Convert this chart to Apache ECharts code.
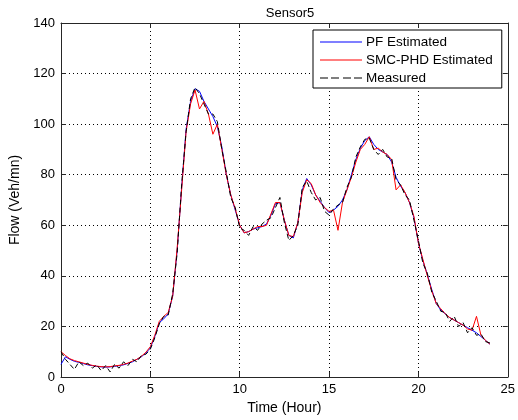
<!DOCTYPE html>
<html>
<head>
<meta charset="utf-8">
<script src="https://cdn.jsdelivr.net/npm/echarts@6/dist/echarts.min.js"></script>
<style>
  html, body { margin: 0; padding: 0; background: #fff; }
  #sensorChart { width: 518px; height: 420px; }
</style>
</head>
<body>
<div id="sensorChart"></div>
<script>
// sampled every quarter hour, 0 .. 24 h
const STEP = 0.25

const pfEstimated = [
  5, 8, 7, 6.2, 5.8, 5.3, 4.8, 4.5, 4.2, 4.0, 3.9, 4.0, 4.2, 4.5, 4.8, 5.4,
  6.0, 7.0, 8.0, 9.5, 11.5, 16, 21.5, 23, 25, 32, 50, 75, 98, 109, 114, 113,
  109, 106, 103, 99, 91, 80, 72, 66, 60, 57, 57.5, 58.5, 59, 59.5, 60.5, 64,
  68.5, 69, 62, 56, 55, 61, 74, 78.5, 76, 72, 69.5, 67, 65, 66, 67.5, 70,
  74, 80, 86, 90.5, 93.5, 95, 92, 90, 89, 88, 85, 79, 75.5, 73, 69, 63,
  53, 46, 40.5, 34.5, 29, 26.5, 25, 23.5, 22.5, 21.5, 20.5, 19.5, 18.5, 17.5, 16, 14.5,
  13
]

const smcPhdEstimated = [
  10, 8.5, 7.2, 6.5, 6, 5.5, 5, 4.6, 4.3, 4.1, 4, 4.1, 4.4, 4.6, 5, 5.5,
  6.3, 7, 8.2, 9.8, 12, 16.5, 22, 24, 25.5, 32, 51, 74, 97, 108, 113.5, 106,
  109, 104, 96, 100, 90, 80, 72, 66.5, 60, 57, 57.5, 58.5, 59.5, 59.5, 60, 64.5,
  69, 69, 62, 56, 55.5, 61, 73, 78, 76.5, 72, 69, 67, 65.5, 66, 58, 69,
  74, 79, 85, 90, 92, 95, 90, 90.5, 89, 88, 86, 74, 76, 73, 69, 63.5,
  53, 46.5, 40, 34, 29, 27, 25, 23.5, 22.5, 21.5, 20.5, 19, 18.5, 24, 16.5, 14.5,
  13
]

const measured = [
  10, 7, 5, 3, 6, 4.5, 5.5, 3.5, 4.8, 2.5, 4.5, 2, 5, 3.5, 6, 4.5,
  7, 6, 8.5, 9, 11, 15.5, 21, 24, 24.5, 33, 49, 76, 97, 110, 114.5, 112,
  108, 104, 104, 101, 90, 81, 71, 67, 59, 58, 56, 59.5, 58, 60.5, 62, 63,
  67, 71, 61, 54, 56, 60, 75, 77.5, 73, 70, 71, 65.5, 64, 66.5, 68, 69,
  75, 79, 87, 91, 94, 94.5, 90, 88, 90, 87, 86.5, 78, 76, 72, 70, 62,
  54, 45, 41, 33.5, 30, 26, 25.5, 22, 24, 20, 21.5, 17.5, 19.5, 16.5, 17, 14,
  13.5
]

const xTicks = { min: 0, max: 25, interval: 5 }
const yTicks = { min: 0, max: 140, interval: 20 }

const hours = pfEstimated.map((v, i) => i * STEP)
const pairs = arr => arr.map((v, i) => [hours[i], v])

const font = 'Liberation Sans, Arial, Helvetica, sans-serif'
const axisColor = '#262626'
const blue = '#0000ff'
const red = '#ff0000'

// legend samples: a thin solid bar and a dashed one
const solidIcon = 'path://M0,0H42V1H0Z'
const dashedIcon = 'path://M0,0h8v1h-8z M11,0h8v1h-8z M23,0h8v1h-8z M34,0h8v1h-8z'

const chart = echarts.init(document.getElementById('sensorChart'))

const baseAxis = {
  axisLine: { show: true, onZero: false, lineStyle: { color: axisColor, width: 1 } },
  axisTick: { show: true, inside: true, length: 5, lineStyle: { color: axisColor } },
  axisLabel: { color: '#000', fontFamily: font, fontSize: 13 }
}
const gridLine = { show: true, lineStyle: { color: '#000', type: [1, 3], width: 1 } }

chart.setOption({
  animation: false,
  title: {
    text: 'Sensor5',
    left: 285,
    top: 2,
    textAlign: 'center',
    textStyle: { fontFamily: font, fontSize: 13, fontWeight: 'normal', color: '#000' }
  },
  grid: { left: 61, right: 10, top: 23, bottom: 43 },
  legend: {
    left: 313,
    top: 30,
    orient: 'vertical',
    itemWidth: 42,
    itemHeight: 2,
    itemGap: 2,
    padding: [4, 9, 2, 7],
    backgroundColor: '#fff',
    borderColor: '#000',
    borderWidth: 1,
    borderRadius: 0,
    textStyle: { fontFamily: font, fontSize: 13.5, color: '#000', padding: [0, 0, 0, -1], lineHeight: 16 },
    data: [
      { name: 'PF Estimated', icon: solidIcon, itemStyle: { color: blue } },
      { name: 'SMC-PHD Estimated', icon: solidIcon, itemStyle: { color: red } },
      { name: 'Measured', icon: dashedIcon, itemStyle: { color: '#000' } }
    ]
  },
  xAxis: [
    Object.assign({}, baseAxis, {
      type: 'value',
      min: xTicks.min, max: xTicks.max, interval: xTicks.interval,
      name: 'Time (Hour)',
      nameLocation: 'middle',
      nameGap: 23,
      nameTextStyle: { fontFamily: font, fontSize: 14, color: '#000' },
      axisLabel: Object.assign({}, baseAxis.axisLabel, { margin: 6 }),
      splitLine: gridLine
    }),
    Object.assign({}, baseAxis, {
      type: 'value', position: 'top',
      min: xTicks.min, max: xTicks.max, interval: xTicks.interval,
      axisLabel: { show: false },
      splitLine: { show: false }
    })
  ],
  yAxis: [
    Object.assign({}, baseAxis, {
      type: 'value',
      min: yTicks.min, max: yTicks.max, interval: yTicks.interval,
      name: 'Flow (Veh/mn)',
      nameLocation: 'middle',
      nameGap: 28,
      nameTextStyle: { fontFamily: font, fontSize: 14, color: '#000' },
      axisLabel: Object.assign({}, baseAxis.axisLabel, { margin: 6 }),
      splitLine: gridLine
    }),
    Object.assign({}, baseAxis, {
      type: 'value', position: 'right',
      min: yTicks.min, max: yTicks.max, interval: yTicks.interval,
      axisLabel: { show: false },
      splitLine: { show: false }
    })
  ],
  series: [
    {
      name: 'PF Estimated',
      type: 'line',
      data: pairs(pfEstimated),
      symbol: 'none',
      lineStyle: { color: blue, width: 1 },
      itemStyle: { color: blue }
    },
    {
      name: 'SMC-PHD Estimated',
      type: 'line',
      data: pairs(smcPhdEstimated),
      symbol: 'none',
      lineStyle: { color: red, width: 1 },
      itemStyle: { color: red }
    },
    {
      name: 'Measured',
      type: 'line',
      data: pairs(measured),
      symbol: 'none',
      lineStyle: { color: '#000', width: 1, type: [5, 3] },
      itemStyle: { color: '#000' }
    }
  ]
})
</script>
</body>
</html>
